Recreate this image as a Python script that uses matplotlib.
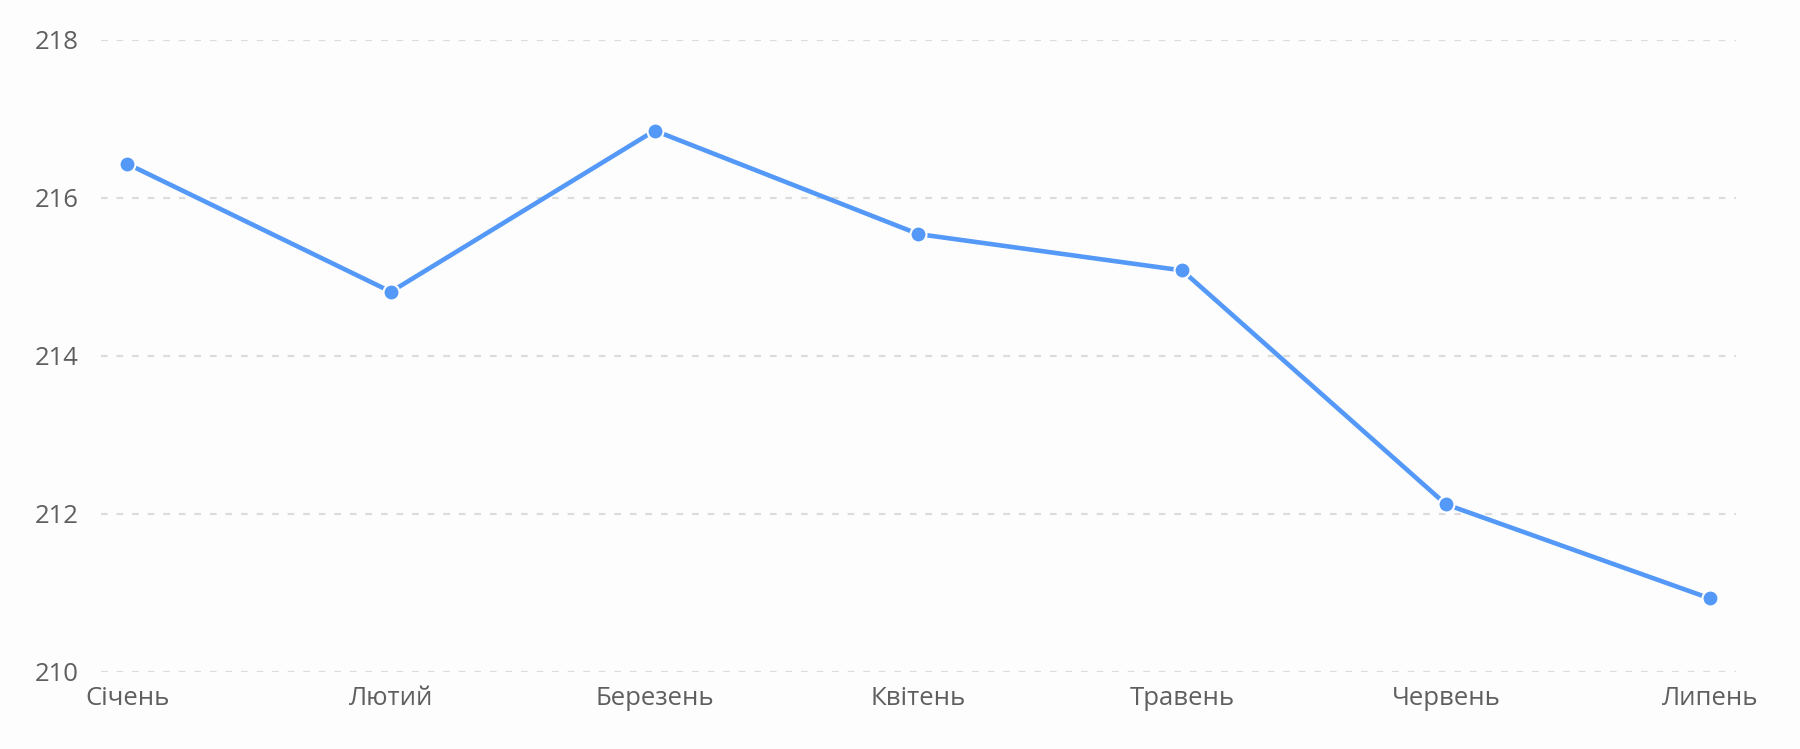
import matplotlib
matplotlib.use("Agg")
import matplotlib.pyplot as plt

months = ["Січень", "Лютий", "Березень", "Квітень", "Травень", "Червень", "Липень"]
values = [216.43, 214.81, 216.85, 215.54, 215.08, 212.12, 210.93]
yticks = [210, 212, 214, 216, 218]

plt.rcParams['font.family'] = ['Open Sans', 'DejaVu Sans']

fig = plt.figure(figsize=(18, 7.49), dpi=100, facecolor='#fdfdfd')
ax = fig.add_axes([0.056, 0.103, 0.9085, 0.844], facecolor='#fdfdfd')

x = list(range(len(months)))
ax.plot(x, values, color='#5499f7', linewidth=3.3, marker='o', markersize=11.5,
        markerfacecolor='#5499f7', markeredgecolor='white', markeredgewidth=1.5,
        zorder=3, solid_capstyle='round')

ax.set_xlim(-0.1, len(months) - 0.9)
ax.set_ylim(210, 218)
ax.set_yticks(yticks)
ax.set_xticks(x)
ax.set_xticklabels(months)

ax.yaxis.grid(True, color='#dcdcdc', linestyle=(0, (3, 4)), linewidth=1.6)
ax.xaxis.grid(False)
for s in ax.spines.values():
    s.set_visible(False)
ax.tick_params(axis='both', length=0, labelsize=18.5, labelcolor='#5f5f5f')
ax.tick_params(axis='y', pad=16)
ax.tick_params(axis='x', pad=10)

fig.savefig('out.png', dpi=100, facecolor=fig.get_facecolor())
